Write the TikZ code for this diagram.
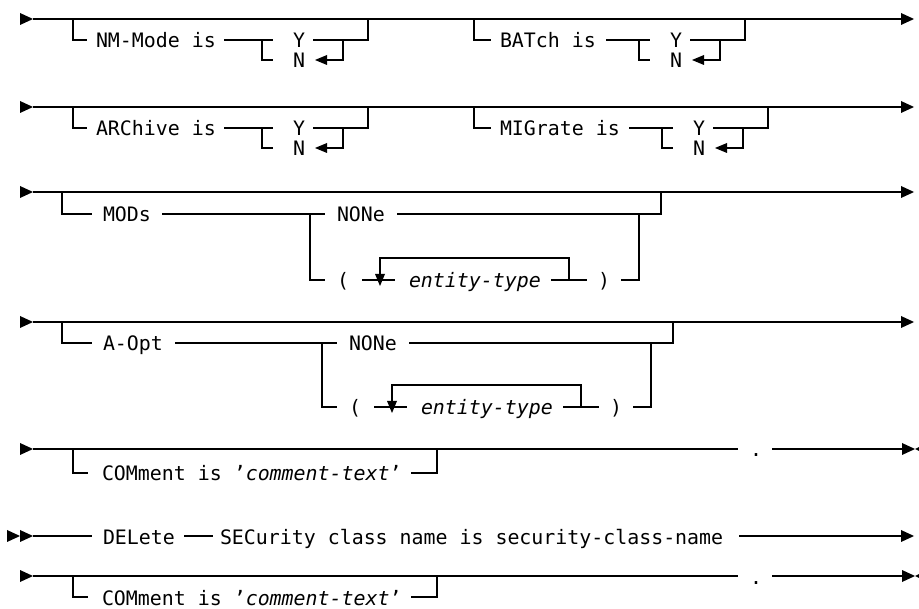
\documentclass[tikz,border=0pt]{standalone}
\usepackage{fontspec}
\setmainfont{DejaVu Sans Mono}
\newcommand\rrsize{\fontsize{19.9}{24}\selectfont}
% filled arrow heads: tip at (#1,#2)
\newcommand\rtri[2]{\fill (#1-13,#2-6) -- (#1,#2) -- (#1-13,#2+6) -- cycle;}
\newcommand\ltri[2]{\fill (#1+12,#2-5) -- (#1,#2) -- (#1+12,#2+5) -- cycle;}
\newcommand\ltribig[2]{\fill (#1+12,#2-6) -- (#1,#2) -- (#1+12,#2+6) -- cycle;}
\newcommand\dtri[2]{\fill (#1-5,#2-6) -- (#1+5,#2-6) -- (#1,#2+6) -- cycle;}
% optional keyword with Y/N choice
% #1 name, #2 bracket x, #3 text x, #4 text, #5 line start x, #6 choice x, #7 main y, #8 branch y
\newcommand\ynopt[8]{%
  \draw[ln] (#2,#7) -- (#2,#8) -- (#3-9,#8);
  \node[tx] (#1) at (#3,#8+8) {#4};
  \draw[ln] (#5,#8) -- (#6+11,#8);
  \draw[ln] (#6,#8) -- (#6,#8+20) -- (#6+11,#8+20);
  \node[tx] (#1y) at (#6+31,#8+8) {Y};
  \node[tx] (#1n) at (#6+31,#8+28) {N};
  \draw[ln] (#6+51,#8) -- (#6+106,#8) -- (#6+106,#7);
  \draw[ln] (#6+81,#8) -- (#6+81,#8+20) -- (#6+64,#8+20);
  \ltri{#6+53}{#8+20}
}
% NONe / ( entity-type ) choice, #1 name, #2 shift, #3 main y, #4 branch y, #5 lower y
\newcommand\entchoice[5]{%
  \draw[ln] (310+#2,#4) -- (310+#2,#5) -- (325+#2,#5);
  \node[tx] (#1none) at (337+#2,#4+8) {NONe};
  \draw[ln] (397+#2,#4) -- (661+#2,#4) -- (661+#2,#3);
  \node[tx] (#1lp) at (337+#2,#5+8) {(};
  \draw[ln] (362+#2,#5) -- (395+#2,#5);
  \dtri{380+#2}{#5}
  \draw[ln] (380+#2,#5-6) -- (380+#2,#5-22) -- (569+#2,#5-22) -- (569+#2,#5);
  \node[tx] (#1et) at (409+#2,#5+8) {\itshape entity-type};
  \draw[ln] (551+#2,#5) -- (587+#2,#5);
  \node[tx] (#1rp) at (598+#2,#5+8) {)};
  \draw[ln] (621+#2,#5) -- (639+#2,#5) -- (639+#2,#4);
}
% comment row, #1 name, #2 main y, #3 branch y
\newcommand\comrow[3]{%
  \rtri{33}{#2}
  \draw[ln] (33,#2) -- (738,#2);
  \node[dotx] (#1dot) at (756,#2+8) {.};
  \draw[ln] (772,#2) -- (902,#2);
  \rtri{915}{#2}
  \ltribig{915}{#2}
  \draw[ln] (73,#2) -- (73,#3) -- (88,#3);
  \node[tx] (#1) at (102,#3+8) {COMment is '\textit{comment-text}'};
  \draw[ln] (411,#3) -- (437,#3) -- (437,#2);
}
\begin{document}
\begin{tikzpicture}[x=1pt,y=-1pt,
  ln/.style={line width=1.1pt},
  tx/.style={anchor=base west,inner sep=0pt,outer sep=0pt,font=\rrsize},
  dotx/.style={anchor=base,inner sep=0pt,outer sep=0pt,font=\rrsize}]
\useasboundingbox[fill=white] (0,0) rectangle (919,609);

% row 1
\rtri{33}{19}
\draw[ln] (33,19) -- (901,19);
\rtri{914}{19}
\ynopt{nm}{73}{96}{NM-Mode is}{224}{262}{19}{40}
\ynopt{bat}{474}{500}{BATch is}{606}{639}{19}{40}

% row 2
\rtri{33}{107}
\draw[ln] (33,107) -- (901,107);
\rtri{914}{107}
\ynopt{arc}{73}{96}{ARChive is}{224}{262}{107}{128}
\ynopt{mig}{474}{500}{MIGrate is}{629}{662}{107}{128}

% row 3: MODs
\rtri{33}{192}
\draw[ln] (33,192) -- (901,192);
\rtri{914}{192}
\draw[ln] (62,192) -- (62,214) -- (92,214);
\node[tx] (mods) at (103,222) {MODs};
\draw[ln] (162,214) -- (325,214);
\entchoice{m}{0}{192}{214}{280}

% row 4: A-Opt
\rtri{33}{322}
\draw[ln] (33,322) -- (901,322);
\rtri{914}{322}
\draw[ln] (62,322) -- (62,343) -- (92,343);
\node[tx] (aopt) at (103,351) {A-Opt};
\draw[ln] (175,343) -- (337,343);
\entchoice{a}{12}{322}{343}{407}

% row 5: COMment
\comrow{com1}{449}{473}

% row 6: DELete
\rtri{20}{536}
\rtri{33}{536}
\draw[ln] (33,536) -- (92,536);
\node[tx] (del) at (103,544) {DELete};
\draw[ln] (184,536) -- (213,536);
\node[tx] (sec) at (220,544) {SECurity class name is security-class-name};
\draw[ln] (739,536) -- (901,536);
\rtri{914}{536}

% row 7: COMment
\comrow{com2}{576}{597}
\end{tikzpicture}
\end{document}
